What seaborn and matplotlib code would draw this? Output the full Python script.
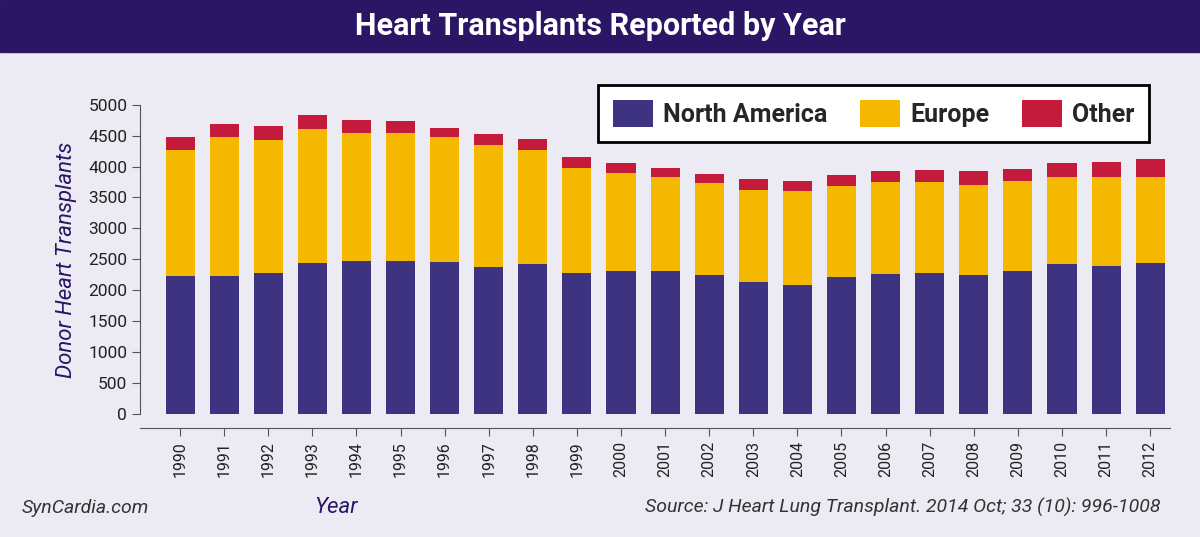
import matplotlib
matplotlib.use("Agg")
import matplotlib.pyplot as plt
import seaborn as sns
import pandas as pd
import numpy as np

years = [str(y) for y in range(1990, 2013)]
north_america = [2224,2224,2273,2435,2468,2468,2451,2370,2419,2273,2305,2305,2240,2127,2078,2208,2256,2273,2240,2305,2419,2386,2435]
europe_top = [4270,4481,4432,4610,4545,4545,4481,4351,4270,3977,3896,3831,3734,3620,3604,3685,3750,3750,3701,3766,3831,3831,3831]
total = [4481,4692,4659,4838,4756,4740,4627,4529,4448,4156,4058,3977,3880,3799,3766,3864,3929,3945,3929,3961,4058,4075,4123]

sns.set_style("white")
fam = ['Roboto', 'DejaVu Sans']
plt.rcParams['font.family'] = fam

BG = "#ecebf3"
C_NA, C_EU, C_OT = "#3d3380", "#f5b800", "#c41a3b"
fig = plt.figure(figsize=(12, 5.37), dpi=100, facecolor=BG)
fig.patches.append(plt.Rectangle((0, 0.903), 1, 0.097, transform=fig.transFigure, color="#2b1565", zorder=0))
fig.text(0.5, 0.952, "Heart Transplants Reported by Year", ha="center", va="center", color="white", fontsize=22, fontweight="bold")

ax = fig.add_axes([0.117, 0.203, 0.858, 0.625], facecolor=BG)
df = pd.DataFrame({"year": years, "na": north_america, "eu": europe_top, "tot": total})
kw = dict(saturation=1, width=0.66, ax=ax, linewidth=0)
sns.barplot(data=df, x="year", y="tot", color=C_OT, label="Other", **kw)
sns.barplot(data=df, x="year", y="eu", color=C_EU, label="Europe", **kw)
sns.barplot(data=df, x="year", y="na", color=C_NA, label="North America", **kw)
ax.set_ylim(-230, 5200)
ax.set_xlim(-0.9, len(years) - 0.55)
ax.set_yticks(range(0, 5001, 500))
ax.tick_params(axis="y", labelsize=12.5, length=6, color="#555", left=True, labelcolor="#222")
ax.tick_params(axis="x", labelsize=11.5, rotation=90, length=6, color="#555", bottom=True, labelcolor="#222")
for s in ["top", "right"]:
    ax.spines[s].set_visible(False)
ax.spines["left"].set_bounds(0, 5000)
ax.spines["left"].set_color("#555")
ax.spines["bottom"].set_color("#555")
ax.set_xlabel("")
ax.set_ylabel("Donor Heart Transplants", fontsize=16, style="italic", color="#2b1565", labelpad=8)
h, l = ax.get_legend_handles_labels()
order = [l.index("North America"), l.index("Europe"), l.index("Other")]
leg = ax.legend([h[i] for i in order], [l[i] for i in order], loc="upper right", ncol=3,
                frameon=True, fancybox=False, edgecolor="black", framealpha=1,
                bbox_to_anchor=(0.992, 1.06), handlelength=1.6, handleheight=1.3, columnspacing=1.3,
                handletextpad=0.4, borderpad=0.6, prop={"family": fam, "weight": "bold", "size": 18})
leg.get_frame().set_linewidth(2)

fig.text(0.018, 0.045, "SynCardia.com", fontsize=14, style="italic", color="#333")
fig.text(0.262, 0.045, "Year", fontsize=16, style="italic", color="#2b1565")
fig.text(0.967, 0.045, "Source: J Heart Lung Transplant. 2014 Oct; 33 (10): 996-1008", fontsize=14, style="italic", color="#333", ha="right")
fig.savefig("out.png", dpi=100, facecolor=BG)
